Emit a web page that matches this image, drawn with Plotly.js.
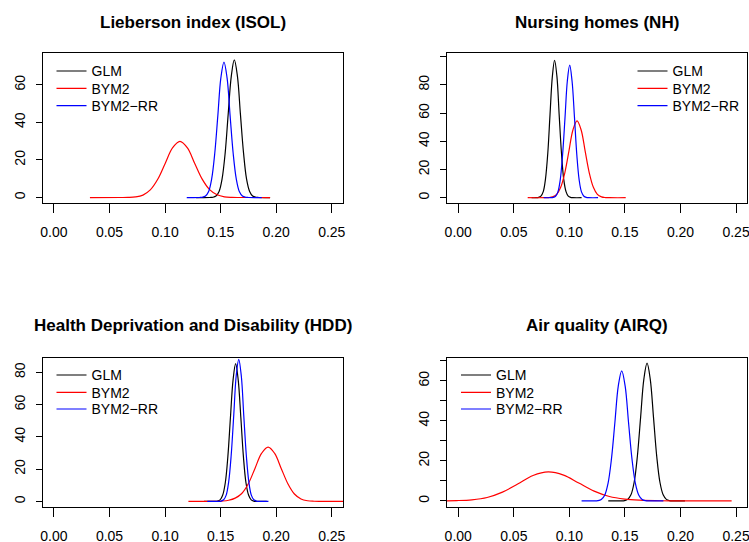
<!DOCTYPE html>
<html>
<head>
<meta charset="utf-8">
<script src="https://cdn.plot.ly/plotly-3.0.1.min.js"></script>
<style>
html,body{margin:0;padding:0;background:#ffffff;overflow:hidden;}
#chart{width:749px;height:542px;}
</style>
</head>
<body>
<div id="chart"></div>
<script>
// ---------- DATA ----------
const seriesNames = ['GLM', 'BYM2', 'BYM2\u2212RR'];
const seriesColors = ['#000000', '#FF0000', '#0000FF'];
const panelTitles = ['Lieberson index (ISOL)', 'Nursing homes (NH)', 'Health Deprivation and Disability (HDD)', 'Air quality (AIRQ)'];
const xTickVals = [0, 0.05, 0.10, 0.15, 0.20, 0.25];
const xTickText = ['0.00', '0.05', '0.10', '0.15', '0.20', '0.25'];

// Panel 1: Lieberson index (ISOL)
const isolGlmX  = [0.1280, 0.1403, 0.1431, 0.1458, 0.1486, 0.1513, 0.1541, 0.1568, 0.1596, 0.1623, 0.1651, 0.1678, 0.1706, 0.1733, 0.1761, 0.1788, 0.1816, 0.1843, 0.1945];
const isolGlmY  = [0.00, 0.02, 0.16, 0.81, 3.21, 9.90, 23.77, 44.40, 64.60, 73.20, 64.60, 44.40, 23.77, 9.90, 3.21, 0.81, 0.16, 0.02, 0.00];
const isolBym2X = [0.0324, 0.0600, 0.0667, 0.0734, 0.0801, 0.0867, 0.0934, 0.1001, 0.1067, 0.1134, 0.1201, 0.1267, 0.1334, 0.1401, 0.1468, 0.1534, 0.1601, 0.1668, 0.1945];
const isolBym2Y = [0.00, 0.01, 0.07, 0.33, 1.31, 4.05, 9.71, 18.13, 26.39, 29.90, 26.39, 18.13, 9.80, 4.20, 1.45, 0.40, 0.10, 0.02, 0.00];
const isolRrX   = [0.1195, 0.1309, 0.1336, 0.1364, 0.1392, 0.1419, 0.1447, 0.1475, 0.1502, 0.1530, 0.1558, 0.1585, 0.1613, 0.1641, 0.1668, 0.1696, 0.1724, 0.1751, 0.1870];
const isolRrY   = [0.00, 0.02, 0.16, 0.80, 3.17, 9.76, 23.41, 43.73, 63.63, 72.10, 63.63, 43.73, 23.41, 9.76, 3.17, 0.80, 0.16, 0.02, 0.00];

// Panel 2: Nursing homes (NH)
const nhGlmX  = [0.0660, 0.0703, 0.0723, 0.0744, 0.0765, 0.0785, 0.0806, 0.0826, 0.0847, 0.0867, 0.0888, 0.0908, 0.0929, 0.0949, 0.0970, 0.0990, 0.1011, 0.1031, 0.1110];
const nhGlmY  = [0.00, 0.03, 0.21, 1.08, 4.28, 13.18, 31.63, 59.07, 85.96, 97.40, 85.96, 59.07, 31.63, 13.18, 4.28, 1.08, 0.21, 0.03, 0.00];
const nhBym2X = [0.0625, 0.0776, 0.0812, 0.0849, 0.0886, 0.0922, 0.0959, 0.0996, 0.1032, 0.1069, 0.1106, 0.1142, 0.1179, 0.1216, 0.1252, 0.1289, 0.1326, 0.1362, 0.1507];
const nhBym2Y = [0.00, 0.02, 0.12, 0.60, 2.39, 7.36, 17.66, 32.99, 48.01, 54.40, 48.01, 32.99, 17.66, 7.36, 2.39, 0.60, 0.12, 0.02, 0.00];
const nhRrX   = [0.0770, 0.0833, 0.0854, 0.0876, 0.0897, 0.0918, 0.0939, 0.0961, 0.0982, 0.1003, 0.1024, 0.1046, 0.1067, 0.1088, 0.1109, 0.1131, 0.1152, 0.1173, 0.1258];
const nhRrY   = [0.00, 0.03, 0.21, 1.04, 4.12, 12.70, 30.49, 56.95, 82.87, 93.90, 82.87, 56.95, 30.49, 12.70, 4.12, 1.04, 0.21, 0.03, 0.00];

// Panel 3: Health Deprivation and Disability (HDD)
const hddGlmX  = [0.1350, 0.1448, 0.1472, 0.1495, 0.1518, 0.1542, 0.1565, 0.1588, 0.1612, 0.1635, 0.1658, 0.1682, 0.1705, 0.1728, 0.1752, 0.1775, 0.1798, 0.1822, 0.1915];
const hddGlmY  = [0.00, 0.03, 0.19, 0.95, 3.75, 11.55, 27.73, 51.80, 75.37, 85.40, 75.37, 51.80, 27.73, 11.55, 3.75, 0.95, 0.19, 0.03, 0.00];
const hddBym2X = [0.1210, 0.1453, 0.1513, 0.1572, 0.1631, 0.1690, 0.1749, 0.1809, 0.1868, 0.1927, 0.1986, 0.2045, 0.2105, 0.2164, 0.2223, 0.2282, 0.2341, 0.2401, 0.2650];
const hddBym2Y = [0.00, 0.05, 0.20, 0.70, 2.00, 4.90, 10.94, 20.44, 29.74, 33.70, 29.74, 20.44, 10.94, 4.56, 1.48, 0.37, 0.07, 0.01, 0.00];
const hddRrX   = [0.1380, 0.1482, 0.1504, 0.1527, 0.1550, 0.1572, 0.1595, 0.1618, 0.1640, 0.1663, 0.1686, 0.1708, 0.1731, 0.1754, 0.1776, 0.1799, 0.1822, 0.1844, 0.1930];
const hddRrY   = [0.00, 0.03, 0.19, 0.98, 3.87, 11.92, 28.61, 53.43, 77.75, 88.10, 77.75, 53.43, 28.61, 11.92, 3.87, 0.98, 0.19, 0.03, 0.00];

// Panel 4: Air quality (AIRQ)
const airqGlmX  = [0.1350, 0.1467, 0.1496, 0.1525, 0.1554, 0.1583, 0.1612, 0.1641, 0.1670, 0.1699, 0.1728, 0.1757, 0.1786, 0.1815, 0.1844, 0.1873, 0.1902, 0.1931, 0.2040];
const airqGlmY  = [0.00, 0.02, 0.15, 0.76, 3.02, 9.31, 22.34, 41.73, 60.72, 68.80, 60.72, 41.73, 22.34, 9.31, 3.02, 0.76, 0.15, 0.02, 0.00];
const airqBym2X = [-0.0300, -0.0153, -0.0015, 0.0123, 0.0260, 0.0398, 0.0535, 0.0673, 0.0810, 0.0948, 0.1085, 0.1223, 0.1360, 0.1498, 0.1635, 0.1773, 0.1910, 0.2460];
const airqBym2Y = [0.00, 0.03, 0.16, 0.55, 1.70, 4.40, 8.40, 12.70, 14.50, 12.90, 8.90, 4.90, 2.20, 0.90, 0.35, 0.12, 0.04, 0.00];
const airqRrX   = [0.1110, 0.1225, 0.1256, 0.1287, 0.1318, 0.1348, 0.1379, 0.1410, 0.1440, 0.1471, 0.1502, 0.1532, 0.1563, 0.1594, 0.1625, 0.1655, 0.1686, 0.1717, 0.1846];
const airqRrY   = [0.00, 0.02, 0.14, 0.72, 2.85, 8.79, 21.11, 39.42, 57.36, 65.00, 57.36, 39.42, 21.11, 8.79, 2.85, 0.72, 0.14, 0.02, 0.00];

// y-axis ticks per panel
const yTicks1 = [0, 20, 40, 60];
const yTicks2 = [0, 20, 40, 60, 80, 100];
const yTickText2 = ['0', '20', '40', '60', '80', ''];
const yTicks3 = [0, 20, 40, 60, 80];
const yTicks4 = [0, 10, 20, 30, 40, 50, 60, 70];
const yTickText4 = ['0', '', '20', '', '40', '', '60', ''];

// ---------- LAYOUT / TRACES ----------
const FONT = 'Liberation Sans, Arial, Helvetica, sans-serif';
const W = 749, H = 542;
const px2fx = v => v / W;
const px2fy = v => 1 - v / H;

const panels = [
  {xa: 'x',  ya: 'y',  data: [[isolGlmX, isolGlmY], [isolBym2X, isolBym2Y], [isolRrX, isolRrY]]},
  {xa: 'x2', ya: 'y2', data: [[nhGlmX, nhGlmY], [nhBym2X, nhBym2Y], [nhRrX, nhRrY]]},
  {xa: 'x3', ya: 'y3', data: [[hddGlmX, hddGlmY], [hddBym2X, hddBym2Y], [hddRrX, hddRrY]]},
  {xa: 'x4', ya: 'y4', data: [[airqGlmX, airqGlmY], [airqBym2X, airqBym2Y], [airqRrX, airqRrY]]}
];
// legend placement (left px of legend block, row-centre px of the three entries)
const legendLeft = [51.5, 632.5, 51.5, 456];
const legendRows = [[71, 88.3, 105.7], [71, 88.3, 105.7], [375, 392.3, 409], [375, 392.3, 409]];

const traces = [];
const layout = {
  width: W, height: H,
  margin: {l: 0, r: 0, t: 0, b: 0, pad: 0},
  paper_bgcolor: '#ffffff', plot_bgcolor: '#ffffff',
  font: {family: FONT, size: 14, color: '#000'},
  showlegend: true
};

let lgCount = 0;
panels.forEach((p, pi) => {
  p.data.forEach((d, i) => {
    lgCount += 1;
    const lgId = lgCount === 1 ? 'legend' : 'legend' + lgCount;
    traces.push({
      type: 'scatter', mode: 'lines',
      x: d[0], y: d[1],
      xaxis: p.xa, yaxis: p.ya,
      name: seriesNames[i],
      legend: lgId,
      line: {color: seriesColors[i], width: 1.2, shape: 'spline', smoothing: 1},
      hoverinfo: 'skip'
    });
    layout[lgId] = {
      x: px2fx(legendLeft[pi]), y: px2fy(legendRows[pi][i] - 15.6),
      xanchor: 'left', yanchor: 'top',
      bgcolor: 'rgba(0,0,0,0)', borderwidth: 0,
      font: {family: FONT, size: 14, color: '#000'}
    };
  });
});

// box geometry in pixels
const colX = [[42.7, 343.0], [447.0, 747.3]];
const rowY = [[53.2, 202.8], [358.0, 506.7]];

function xaxisDef(col, anchor) {
  return {
    domain: [px2fx(colX[col][0]), px2fx(colX[col][1])],
    range: [-0.0101, 0.2601],
    anchor: anchor,
    tickvals: xTickVals, ticktext: xTickText,
    ticks: 'outside', ticklen: 9, tickwidth: 1, tickcolor: '#000',
    ticklabelstandoff: 7,
    ticklabeloverflow: 'allow',
    showline: true, mirror: true, linecolor: '#000', linewidth: 1,
    showgrid: false, zeroline: false, fixedrange: true,
    tickfont: {family: FONT, size: 14, color: '#000'}
  };
}
function yaxisDef(row, anchor, range, tv, tt) {
  return {
    domain: [px2fy(rowY[row][1]), px2fy(rowY[row][0])],
    range: range,
    anchor: anchor,
    tickvals: tv, ticktext: tt || tv.map(String),
    tickangle: -90,
    ticks: 'outside', ticklen: 6, tickwidth: 1, tickcolor: '#000',
    ticklabelstandoff: 5,
    ticklabeloverflow: 'allow',
    showline: true, mirror: true, linecolor: '#000', linewidth: 1,
    showgrid: false, zeroline: false, fixedrange: true,
    tickfont: {family: FONT, size: 14, color: '#000'}
  };
}

layout.xaxis  = xaxisDef(0, 'y');
layout.yaxis  = yaxisDef(0, 'x',  [-2.8, 76.8], yTicks1);
layout.xaxis2 = xaxisDef(1, 'y2');
layout.yaxis2 = yaxisDef(0, 'x2', [-3.6, 102.4], yTicks2, yTickText2);
layout.xaxis3 = xaxisDef(0, 'y3');
layout.yaxis3 = yaxisDef(1, 'x3', [-3.3, 88.9], yTicks3);
layout.xaxis4 = xaxisDef(1, 'y4');
layout.yaxis4 = yaxisDef(1, 'x4', [-2.9, 71.4], yTicks4, yTickText4);

const titleCenters = [[192.8, 22], [597.2, 22], [192.8, 325.8], [597.2, 325.8]];
layout.annotations = panelTitles.map((t, i) => ({
  text: '<b>' + t + '</b>',
  xref: 'paper', yref: 'paper',
  x: px2fx(titleCenters[i][0]), y: px2fy(titleCenters[i][1]),
  xanchor: 'center', yanchor: 'middle', showarrow: false,
  font: {family: FONT, size: 17, color: '#000'}
}));

Plotly.newPlot('chart', traces, layout, {displayModeBar: false, staticPlot: true});
</script>
</body>
</html>
